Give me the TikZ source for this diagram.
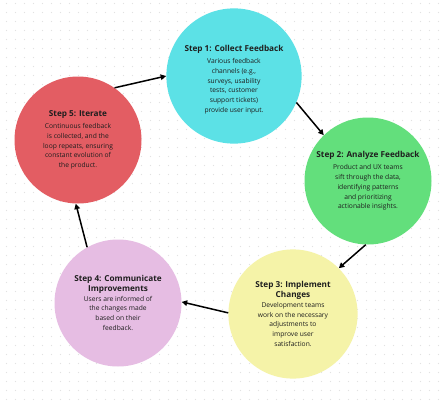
\documentclass[tikz,border=0pt]{standalone}
\usepackage{fontspec}
\setmainfont{Open Sans}
\usetikzlibrary{arrows.meta}
\definecolor{dotgray}{HTML}{E2E2E2}
\definecolor{cyanstep}{HTML}{5CE1E6}
\definecolor{greenstep}{HTML}{63DF7C}
\definecolor{yellowstep}{HTML}{F5F3A8}
\definecolor{pinkstep}{HTML}{E6BDE3}
\definecolor{redstep}{HTML}{E35D63}
\definecolor{inktext}{HTML}{1E1E1E}
\newcommand{\steptitle}[1]{{\fontsize{8.2}{10.3}\selectfont\bfseries #1}}
\begin{document}
\begin{tikzpicture}[x=1pt,y=-1pt,
  stepcircle/.style={circle,minimum size=127pt,inner sep=0pt,text width=112pt,
    align=flush center,text=inktext,
    font=\fontsize{6.7}{9.8}\selectfont\setlength{\baselineskip}{9.8pt}},
  flow/.style={line width=1.5pt,-{Triangle[length=5.5pt,width=5.5pt]}}]
\useasboundingbox (0,0) rectangle (440,400);
\fill[white] (0,0) rectangle (440,400);

\foreach \i in {0,...,48}
  \foreach \j in {0,...,44}
    \fill[dotgray] (6.5+9*\i,3.5+9*\j) circle (0.6pt);

\node[stepcircle,fill=cyanstep] (s1) at (234,76)
  {\mbox{}\\[4pt]\steptitle{Step 1: Collect Feedback}\\[2pt]
   Various feedback\\ channels (e.g.,\\ surveys, usability\\ tests, customer\\ support tickets)\\ provide user input.};
\node[stepcircle,fill=greenstep] (s2) at (368,181)
  {\steptitle{Step 2: Analyze Feedback}\\[2pt]
   Product and UX teams\\ sift through the data,\\ identifying patterns\\ and prioritizing\\ actionable insights.};
\node[stepcircle,fill=yellowstep] (s3) at (293,314)
  {\steptitle{Step 3: Implement\\ Changes}\\[0pt]
   Development teams\\ work on the necessary\\ adjustments to\\ improve user\\ satisfaction.};
\node[stepcircle,fill=pinkstep] (s4) at (118,303)
  {\steptitle{Step 4: Communicate\\ Improvements}\\[0pt]
   Users are informed of\\ the changes made\\ based on their\\ feedback.};
\node[stepcircle,fill=redstep] (s5) at (78,140)
  {\mbox{}\\[-3.8pt]\steptitle{Step 5: Iterate}\\[2pt]
   Continuous feedback\\ is collected, and the\\ loop repeats, ensuring\\ constant evolution of\\ the product.};

\draw[flow] (s5.55) -- (s1.180);
\draw[flow] (s1.337) -- (s2.134);
\draw[flow] (s2.268) -- (s3.45);
\draw[flow] (s3.179) -- (s4.1);
\draw[flow] (s4.119) -- (s5.268);

\end{tikzpicture}
\end{document}
